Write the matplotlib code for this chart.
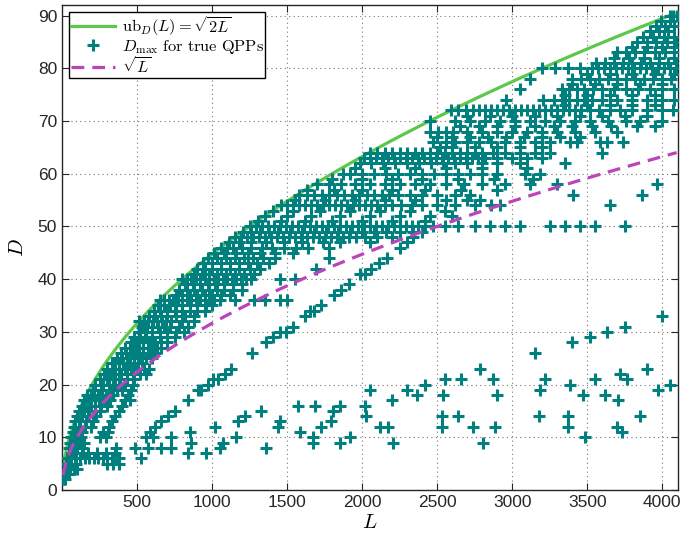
import numpy as np
import matplotlib
matplotlib.use("Agg")
import matplotlib.pyplot as plt

# D levels of the dense band, and the L values where a point sits on that level
rows_D = [2, 3, 4, 5, 6, 7, 8, 9, 10, 11, 12, 13, 14, 15, 16, 17, 18, 19, 20,
          21, 22, 23, 24, 25, 26, 27, 28, 29, 30, 31, 32, 33, 34, 35, 36, 37,
          38, 39, 40, 41, 42, 43, 44, 45, 46, 47, 48, 49, 50, 51, 52, 53, 54,
          55, 56, 57, 58, 59, 60, 61, 62, 63, 64, 65, 66, 67, 68, 69, 70, 71,
          72, 73, 74, 75, 76, 77, 78, 79, 80, 81, 82, 83, 84, 85, 86, 87, 88,
          89, 90]
rows_L = [
    [6, 14, 22],
    [10, 18, 30, 44],
    [14, 26, 40, 56, 78, 100],
    [24, 40, 62, 96, 300, 340, 378],
    [36, 56, 84, 120, 150, 180, 210, 240, 270, 300, 330, 360, 380],
    [64, 96, 140, 176, 230, 290, 350],
    [44, 70, 100, 130, 360],
    [54, 80, 110, 145],
    [60, 90, 125, 255, 290],
    [70, 100, 135, 270, 305],
    [78, 110, 150, 190, 315],
    [86, 120, 160, 205, 330],
    [100, 130, 170, 225, 350],
    [115, 145, 180, 250, 380],
    [130, 160, 190, 220, 260, 300, 400],
    [145, 170, 195, 220, 245, 270, 295, 320, 420, 450],
    [165, 190, 215, 240, 265, 290, 315, 340, 440],
    [205, 260, 330, 365, 400, 460],
    [220, 270, 310, 350, 385, 420, 470],
    [250, 300, 340, 380, 430, 480],
    [280, 320, 355, 390, 430, 470, 520, 560],
    [300, 340, 380, 420, 460, 500, 545, 580],
    [330, 355, 380, 405, 430, 455, 480, 505, 530],
    [365, 400, 440, 480, 520, 560, 600],
    [390, 425, 460, 500, 540, 580, 620],
    [420, 450, 480, 510, 540, 570, 600, 630, 660],
    [460, 500, 540, 580, 620, 660, 700],
    [480, 520, 560, 600, 650, 700, 750],
    [510, 550, 600, 650, 700, 760, 810],
    [530, 565, 600, 640, 680, 720, 780, 840],
    [515, 545, 575, 605, 635, 665, 695, 725, 800, 880],
    [580, 620, 660, 700, 760, 820, 880],
    [610, 650, 700, 750, 800, 850, 900, 950],
    [640, 680, 720, 760, 800, 850, 900, 960, 1000],
    [650, 680, 710, 740, 770, 800, 830, 860, 890, 920, 950, 980, 1010, 1050,
     1150, 1280, 1350, 1450, 1500],
    [760, 800, 850, 900, 950, 1000, 1060, 1120],
    [780, 830, 880, 930, 980, 1030, 1080, 1140, 1200],
    [820, 870, 920, 970, 1020, 1080, 1140, 1200],
    [800, 830, 860, 890, 920, 950, 980, 1010, 1040, 1070, 1100, 1130, 1160,
     1190, 1225, 1260, 1450, 1550],
    [880, 930, 980, 1030, 1090, 1150, 1210, 1280],
    [900, 950, 1000, 1060, 1120, 1180, 1250, 1320, 1690],
    [940, 1000, 1060, 1120, 1180, 1240, 1300, 1380],
    [970, 1030, 1090, 1150, 1210, 1270, 1340, 1420, 1780],
    [1015, 1080, 1160, 1240, 1320, 1420, 1540],
    [1060, 1100, 1140, 1200, 1260, 1330, 1400, 1480, 1560, 1640, 1780],
    [1110, 1180, 1260, 1360, 1480, 1600, 1740, 1850, 2050],
    [1155, 1190, 1230, 1270, 1310, 1350, 1390, 1430, 1470, 1510, 1550, 1590,
     1630, 1670, 1710, 1750, 1790, 1830, 1870, 1910, 1960, 2020, 2100, 2200],
    [1205, 1260, 1320, 1380, 1440, 1520, 1600, 1680, 1760, 1840, 1920, 2000,
     2080, 2160, 2250, 2340],
    [1250, 1290, 1330, 1370, 1410, 1450, 1490, 1530, 1570, 1610, 1650, 1690,
     1730, 1770, 1810, 1850, 1890, 1930, 1970, 2010, 2050, 2090, 2130, 2170,
     2210, 2250, 2290, 2330, 2370, 2420, 2470, 2551, 2640, 2751, 2851, 2951,
     3051, 3251, 3351, 3451, 3551, 3751],
    [1305, 1460, 1620, 1800, 2000, 2200, 2420],
    [1355, 1500, 1660, 1850, 2050, 2250, 2450, 2600],
    [1405, 1540, 1720, 1920, 2120, 2320, 2550],
    [1460, 1500, 1540, 1580, 1620, 1660, 1700, 1740, 1780, 1820, 1860, 1900,
     1940, 1980, 2020, 2060, 2100, 2150, 2200, 2260, 2330, 2400, 2500, 2620,
     2751, 2862, 2918, 3651],
    [1550, 1750, 1950, 2150, 2350, 2560, 2696, 2785],
    [1580, 1630, 1680, 1730, 1780, 1830, 1880, 1930, 1980, 2030, 2080, 2130,
     2180, 2240, 2320, 2400, 2500, 2620, 2718, 3407, 3862],
    [1630, 1810, 2000, 2200, 2420, 2660, 2900],
    [1700, 1780, 1862, 1950, 2050, 2150, 2250, 2350, 2450, 2560, 2680, 2800,
     2950, 3118, 3296, 3962],
    [1800, 2000, 2200, 2400, 2640, 2880, 3140],
    [1870, 1918, 2000, 2080, 2160, 2240, 2320, 2400, 2480, 2560, 2640, 2720,
     2800, 2900, 3085, 3185],
    [1950, 2150, 2350, 2560, 2800, 3100],
    [1985, 2060, 2140, 2220, 2300, 2380, 2460, 2540, 2620, 2700, 2800, 2900,
     3050, 3351],
    [2010, 2050, 2090, 2130, 2170, 2210, 2250, 2290, 2330, 2370, 2410, 2450,
     2490, 2530, 2570, 2610, 2650, 2690, 2730, 2770, 2820, 2900, 3000, 3100,
     3200],
    [2050, 2100, 2150, 2200, 2250, 2300, 2350, 2400, 2450, 2500, 2550, 2600,
     2650, 2700, 2750, 2800, 2870, 2950, 3050, 3150, 3250, 3596],
    [2520, 2600, 2750, 2900, 3050, 3200],
    [2474, 2560, 2620, 2696, 2780, 2860, 2950, 3050, 3150, 3250, 3385, 3429,
     3585, 3629, 3740],
    [2500, 2600, 2720, 2840, 2960, 3080, 3200, 3320, 3450],
    [2451, 2507, 2560, 2607, 2700, 2800, 2900, 3000, 3100, 3200, 3300, 3420,
     3550, 3700],
    [2650, 2780, 2900, 3020, 3150, 3280, 3400, 3530, 3660, 3829, 3950],
    [2455, 2620, 2720, 2820, 2920, 3020, 3120, 3220, 3320, 3420, 3520, 3640,
     3760, 3851, 4000],
    [2700, 2850, 3000, 3150, 3300, 3450, 3600, 3750, 3900],
    [2595, 2640, 2690, 2740, 2780, 2820, 2860, 2900, 2940, 2980, 3020, 3060,
     3100, 3140, 3180, 3220, 3260, 3300, 3340, 3380, 3420, 3460, 3520, 3580,
     3650, 3720, 3800, 3900, 4000, 4073],
    [3350, 3500, 3650, 3800, 3950],
    [2962, 3207, 3280, 3330, 3380, 3430, 3480, 3530, 3600, 3700, 3800, 3900,
     4000, 4080],
    [3350, 3500, 3650, 3800, 3950],
    [3051, 3330, 3380, 3430, 3480, 3540, 3600, 3680, 3760, 3840, 3920, 4000,
     4080],
    [3400, 3550, 3700, 3850, 4000],
    [3118, 3400, 3460, 3520, 3580, 3640, 3700, 3760, 3820, 3880, 3940, 4000,
     4060],
    [3500, 3650, 3800, 3950, 4080],
    [3200, 3285, 3374, 3451, 3530, 3570, 3610, 3650, 3690, 3730, 3770, 3810,
     3850, 3890, 3930, 3970, 4010, 4050, 4090],
    [3560, 3620, 3680, 3740, 3800, 3860, 3920, 3980, 4040, 4090],
    [3680, 3780, 3880, 3980, 4080],
    [3700, 3760, 3820, 3880, 3950, 4020, 4080],
    [3800, 3900, 4000, 4080],
    [3835, 3900, 3960, 4030, 4090],
    [3870, 3940, 4010, 4080],
    [3920, 3980, 4040],
    [3960, 4020, 4080],
    [3990, 4050],
    [4050, 4075, 4096],
]

# points on the thin diagonal below the dashed curve
line_L = [560, 585, 618, 662, 705, 750, 840, 907, 929, 973, 1007, 1040, 1085,
          1129, 1263, 1362, 1407, 1450, 1495, 1540, 1618, 1650, 1680, 1724,
          1813, 1860, 1911, 1985, 2018, 2060, 2110, 2163, 2251, 2300, 2337,
          2400]
line_D = [10, 11, 12, 13, 14, 15, 17, 19, 19, 20, 21, 21, 22, 23, 26, 28, 29,
          30, 30, 31, 33, 34, 34, 35, 37, 38, 39, 41, 41, 42, 43, 44, 46, 47,
          48, 49]

# scattered low points
scatter_L = [485, 529, 574, 607, 663, 729, 729, 840, 851, 862, 962, 1018, 1051,
             1073, 1162, 1173, 1218, 1329, 1362, 1440, 1451, 1573, 1584, 1673,
             1673, 1684, 1729, 1795, 1807, 1851, 1851, 1918, 2018, 2029, 2051,
             2118, 2173, 2196, 2207, 2296, 2363, 2418, 2529, 2529, 2540, 2551,
             2640, 2662, 2740, 2785, 2807, 2873, 2884, 2896, 3151, 3180, 3185,
             3218, 3373, 3373, 3385, 3396, 3473, 3485, 3518, 3551, 3618, 3629,
             3696, 3707, 3718, 3729, 3751, 3763, 3851, 3896, 3973, 3996, 4051]
scatter_D = [8, 6, 8, 10, 8, 10, 8, 7, 11, 9, 7, 12, 8, 9, 10, 13, 14, 15, 8,
             12, 13, 16, 11, 9, 10, 16, 12, 13, 15, 16, 9, 10, 16, 14, 19, 12,
             12, 17, 9, 19, 18, 20, 12, 14, 18, 21, 14, 21, 12, 23, 9, 21, 12,
             18, 26, 14, 19, 21, 14, 12, 20, 28, 18, 10, 29, 21, 18, 30, 12,
             17, 22, 11, 31, 21, 14, 23, 19, 33, 20]

x_ticks = [500, 1000, 1500, 2000, 2500, 3000, 3500, 4000]
y_ticks = [0, 10, 20, 30, 40, 50, 60, 70, 80, 90]

plt.rcParams['font.family'] = ['Liberation Sans', 'DejaVu Sans']
plt.rcParams['mathtext.fontset'] = 'cm'

teal = '#007f7f'
green = '#5cc84a'
magenta = '#bb44bb'

L_pts = np.concatenate([np.concatenate(rows_L), line_L, scatter_L])
D_pts = np.concatenate([np.repeat(rows_D, [len(r) for r in rows_L]),
                        line_D, scatter_D])

L_curve = np.linspace(8, 4096, 600)

fig = plt.figure(figsize=(6.82, 5.47), dpi=100)
ax = fig.add_axes([62 / 682, 1 - 490 / 547, 616 / 682, 485 / 547])

ax.plot(L_curve, np.sqrt(2 * L_curve), color=green, lw=2.3,
        label=r'$\mathrm{ub}_D(L) = \sqrt{2L}$', zorder=2)
ax.plot(L_pts, D_pts, '+', color=teal, ms=8, mew=2.2, linestyle='none',
        label=r'$D_{\max}\ \mathrm{for\ true\ QPPs}$', zorder=3)
ax.plot(L_curve, np.sqrt(L_curve), color=magenta, lw=2.3, dashes=(4, 2.5),
        label=r'$\sqrt{L}$', zorder=4)

ax.set_xlim(0, 4105)
ax.set_ylim(0, 92)
ax.set_xticks(x_ticks)
ax.set_yticks(y_ticks)
ax.tick_params(direction='in', length=5, top=True, right=True,
               labelsize=12.5, colors='#262626', width=0.8)
for s in ax.spines.values():
    s.set_color('#262626')
    s.set_linewidth(1.0)
ax.grid(True, color='#777777', linestyle=(0, (1, 3)), linewidth=0.8)

ax.set_xlabel(r'$L$', fontsize=15, labelpad=2)
ax.set_ylabel(r'$D$', fontsize=15, labelpad=8)

leg = ax.legend(loc='upper left', fontsize=11.8, frameon=True, fancybox=False,
                edgecolor='black', framealpha=1, borderpad=0.1,
                labelspacing=0.0, handlelength=2.7, handletextpad=0.4,
                borderaxespad=0.45)
leg.get_frame().set_linewidth(1.0)

fig.savefig('out.png', dpi=100)
